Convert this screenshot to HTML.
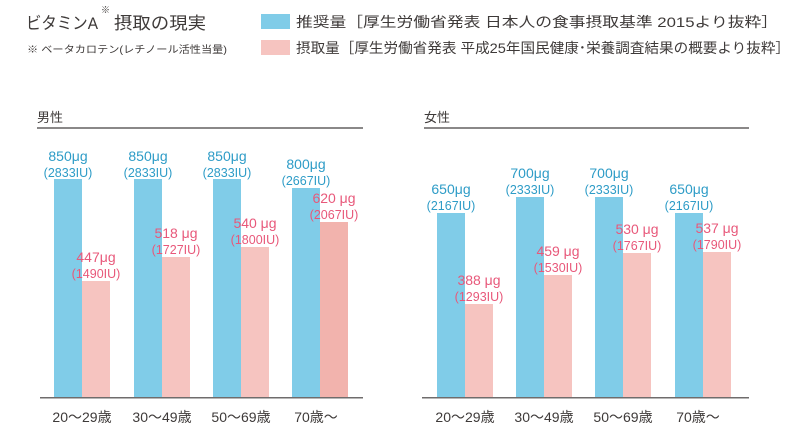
<!DOCTYPE html>
<html><head><meta charset="utf-8"><style>
html,body{margin:0;padding:0;background:#fff;}
svg{display:block;font-family:"Liberation Sans","Noto Sans CJK JP",sans-serif;}
</style></head><body>
<svg width="800" height="440" viewBox="0 0 800 440" xmlns="http://www.w3.org/2000/svg">
<g fill="#3e3a39">
<text x="26" y="29" font-size="17" textLength="72" lengthAdjust="spacingAndGlyphs">ビタミンA</text>
<text x="101" y="13" font-size="9">※</text>
<text x="114" y="29" font-size="17" textLength="92" lengthAdjust="spacingAndGlyphs">摂取の現実</text>
<text x="27" y="53" font-size="10" textLength="200" lengthAdjust="spacingAndGlyphs">※ ベータカロテン(レチノール活性当量)</text>
<text x="296" y="27" font-size="14" textLength="482" lengthAdjust="spacingAndGlyphs">推奨量［厚生労働省発表 日本人の食事摂取基準 2015より抜粋］</text>
<text x="296" y="53" font-size="14" textLength="494" lengthAdjust="spacingAndGlyphs">摂取量［厚生労働省発表 平成25年国民健康･栄養調査結果の概要より抜粋］</text>
<text x="37" y="122" font-size="13">男性</text>
<text x="424" y="122" font-size="13">女性</text>
</g>
<rect x="261" y="14" width="29" height="15" fill="#80cce8"/>
<rect x="261" y="40" width="29" height="15" fill="#f6c4c0"/>
<rect x="37" y="127" width="326" height="2" fill="#8a8888"/>
<rect x="424" y="127" width="325" height="2" fill="#8a8888"/>

<g fill="#80cce8">
<rect x="54" y="179" width="28" height="218"/>
<rect x="134" y="179" width="28" height="218"/>
<rect x="213" y="179" width="28" height="218"/>
<rect x="292" y="188" width="28" height="209"/>
<rect x="437" y="213" width="28" height="184"/>
<rect x="516" y="197" width="28" height="200"/>
<rect x="595" y="197" width="28" height="200"/>
<rect x="675" y="213" width="28" height="184"/>
</g>
<g fill="#f6c4c0">
<rect x="82" y="281" width="28" height="116"/>
<rect x="162" y="257" width="28" height="140"/>
<rect x="241" y="247" width="28" height="150"/>
<rect x="320" y="222" width="28" height="175" fill="#f2b3ad"/>
<rect x="465" y="304" width="28" height="93"/>
<rect x="544" y="275" width="28" height="122"/>
<rect x="623" y="253" width="28" height="144"/>
<rect x="703" y="252" width="28" height="145"/>
</g>
<rect x="40" y="397" width="323" height="1.5" fill="#6f6c6c"/>
<rect x="422" y="397" width="327" height="1.5" fill="#6f6c6c"/>

<g font-size="14" text-anchor="middle" fill="#2e9cc7">
<text x="68" y="161">850μg</text><text x="68" y="177" font-size="12.5">(2833IU)</text>
<text x="148" y="161">850μg</text><text x="148" y="177" font-size="12.5">(2833IU)</text>
<text x="227" y="161">850μg</text><text x="227" y="177" font-size="12.5">(2833IU)</text>
<text x="306" y="169">800μg</text><text x="306" y="185" font-size="12.5">(2667IU)</text>
<text x="451" y="194">650μg</text><text x="451" y="210" font-size="12.5">(2167IU)</text>
<text x="530" y="178">700μg</text><text x="530" y="194" font-size="12.5">(2333IU)</text>
<text x="609" y="178">700μg</text><text x="609" y="194" font-size="12.5">(2333IU)</text>
<text x="689" y="194">650μg</text><text x="689" y="210" font-size="12.5">(2167IU)</text>
</g>
<g font-size="14" text-anchor="middle" fill="#e8587a">
<text x="96" y="262">447μg</text><text x="96" y="278" font-size="12.5">(1490IU)</text>
<text x="176" y="238">518 μg</text><text x="176" y="254" font-size="12.5">(1727IU)</text>
<text x="255" y="228">540 μg</text><text x="255" y="244" font-size="12.5">(1800IU)</text>
<text x="334" y="203">620 μg</text><text x="334" y="219" font-size="12.5">(2067IU)</text>
<text x="479" y="285">388 μg</text><text x="479" y="301" font-size="12.5">(1293IU)</text>
<text x="558" y="256">459 μg</text><text x="558" y="272" font-size="12.5">(1530IU)</text>
<text x="637" y="234">530 μg</text><text x="637" y="250" font-size="12.5">(1767IU)</text>
<text x="717" y="233">537 μg</text><text x="717" y="249" font-size="12.5">(1790IU)</text>
</g>
<g font-size="14" text-anchor="middle" fill="#3e3a39">
<text x="82" y="422">20～29歳</text>
<text x="162" y="422">30～49歳</text>
<text x="241" y="422">50～69歳</text>
<text x="316" y="422">70歳～</text>
<text x="465" y="422">20～29歳</text>
<text x="544" y="422">30～49歳</text>
<text x="623" y="422">50～69歳</text>
<text x="698" y="422">70歳～</text>
</g>
</svg>
</body></html>
